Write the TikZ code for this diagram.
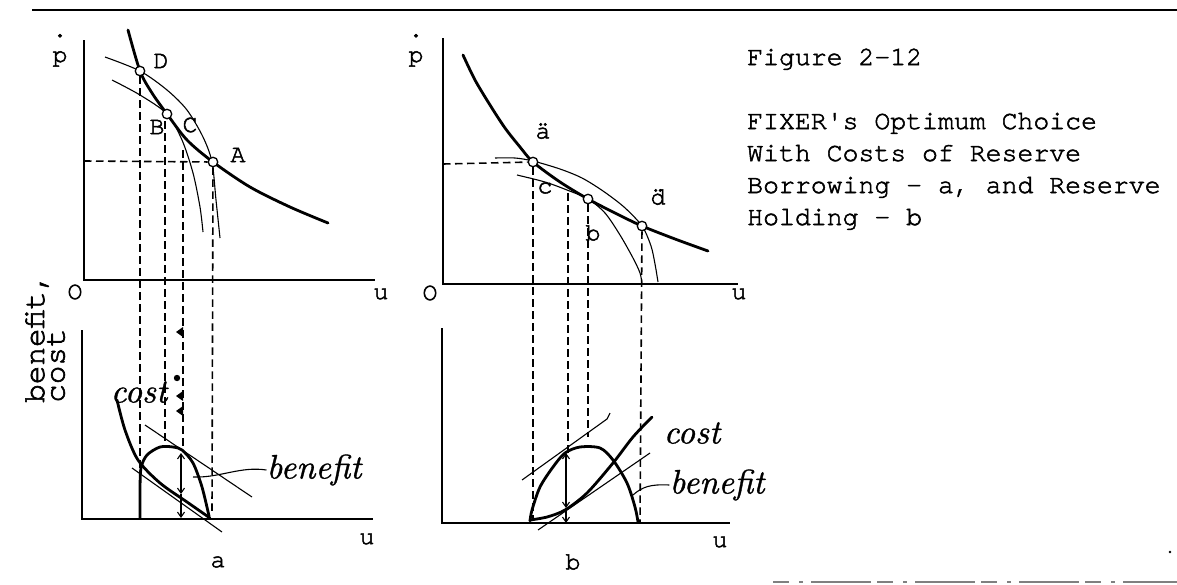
\documentclass[tikz,border=0pt]{standalone}
\usepackage{fontspec}
\usepackage{graphicx}
\newfontfamily\mono{texgyrecursor-regular.otf}[FakeBold=2]
\newfontfamily\itfont{lmroman10-italic.otf}[FakeBold=1]
\usetikzlibrary{arrows.meta}
\begin{document}
\begin{tikzpicture}[x=1pt,y=-1pt,
  ax/.style={line width=2.4pt},
  thk/.style={line width=2.8pt, line cap=round},
  thn/.style={line width=1.1pt},
  dsh/.style={line width=1.6pt, dash pattern=on 7.5pt off 4.5pt},
  pt/.style={circle, draw, fill=white, inner sep=0pt, minimum size=9.5pt, line width=1.3pt},
  lbl/.style={font=\mono\fontsize{25}{25}\selectfont, inner sep=0pt},
  pdot/.style={font=\mono\fontsize{25}{25}\selectfont, inner sep=0pt, align=center},
  itl/.style={font=\itfont\fontsize{34}{34}\selectfont, inner sep=0pt},
  rot/.style={font=\mono\fontsize{31}{31}\selectfont, inner sep=0pt, anchor=south},
  dbl/.style={line width=1.1pt, {Straight Barb[length=5pt,width=7pt]}-{Straight Barb[length=5pt,width=7pt]}},
  sgl/.style={line width=1.1pt, -{Straight Barb[length=5pt,width=7pt]}},
  blob/.style={fill=black},
]
\useasboundingbox (0,0) rectangle (1177,584);
% top rule and bottom scan line
\draw[line width=2pt] (32,10) -- (1177,10);
\draw[gray, line width=1.6pt, dash pattern=on 16pt off 10pt on 4pt off 8pt on 60pt off 6pt] (773,582) -- (1177,582);
\fill (1170,552) circle (1.3pt);

% ================= LEFT TOP =================
\draw[ax] (84,40) -- (84,280) -- (375,280);
\node[pdot, anchor=base] (pL) at (60,62) {.\\p};
\node[lbl] (OL) at (75,292) {O};
\node[lbl] (uL) at (381,294) {u};
\draw[thk] plot[smooth] coordinates {(128,30) (140,71) (152,93) (167,114) (187,140) (213,162) (250,187) (290,207) (328,223)};
\draw[thn] plot[smooth] coordinates {(105,57) (140,71) (167,90) (187,110) (203,137) (212,162) (216,200) (220,238)};
\draw[thn] plot[smooth] coordinates {(112,80) (140,95) (167,114) (182,140) (193,173) (200,207) (203,232)};
\coordinate (hA) at (84,161);
\coordinate (c3t) at (183,150);
\node[pt] (D) at (140,71) {};
\node[pt] (B) at (167,114) {};
\node[pt] (A) at (213,162) {};
\node[lbl] (lD) at (161,61) {D};
\node[lbl] (lB) at (157,127) {B};
\node[lbl] (lC) at (190,125) {C};
\node[lbl] (lA) at (238,155) {A};
% dashed
\coordinate (d1b) at (140,519);
\coordinate (d2b) at (165,447);
\coordinate (d3b) at (183,452);
\coordinate (d4b) at (212,513);
\draw[dsh] (hA) -- (A);
\draw[dsh] (D) -- (d1b);
\draw[dsh] (165,121) -- (d2b);
\draw[dsh] (c3t) -- (d3b);
\draw[dsh] (A) -- (d4b);
% odd marks on dashed line
\fill[blob] (176,332) -- (183,327) -- (183,337) -- cycle;
\fill[blob] (177,378) circle (3.2pt);
\fill[blob] (176,396) -- (183,391) -- (183,401) -- cycle;
\fill[blob] (176,411) -- (183,406) -- (183,416) -- cycle;

% ================= LEFT BOTTOM =================
\draw[ax] (82,330) -- (82,519) -- (373,519);
\node[lbl] (uLb) at (367,539) {u};
\node[lbl] (la) at (218,562) {a};
\node[rot] (ben1) at (37,403) {\rotatebox{90}{benefit,}};
\node[rot] (cst1) at (56,403) {\rotatebox{90}{cost}};
\draw[thk] plot[smooth] coordinates {(117,400) (125,430) (138,460) (160,483) (187,502) (210,518)};
\draw[thk] plot[smooth] coordinates {(140,518) (140,490) (141,468) (147,455) (160,447) (173,447) (182,450) (193,463) (202,487) (209,516)};
\draw[thn] (145,425) -- (252,497);
\draw[thn] (132,468) -- (222,532);
\coordinate (arT) at (181,453);
\coordinate (arM) at (181,494);
\coordinate (arB) at (181,518);
\draw[dbl] (arT) -- (arM);
\draw[sgl] (arM) -- (arB);
\node[itl] (costL) at (139,392) {cost};
\node[itl] (benL) at (314,470) {benefit};
\coordinate (lkL) at (193,477);
\draw[thn] (lkL) .. controls (220,478) and (240,466) .. (benL.west);

% ================= RIGHT TOP =================
\draw[ax] (443,38) -- (443,284) -- (738,284);
\node[pdot, anchor=base] (pR) at (416,62) {.\\p};
\node[lbl] (OR) at (430,293) {O};
\node[lbl] (uR) at (739,294) {u};
\draw[thk] plot[smooth] coordinates {(463,55) (475,80) (490,105) (505,128) (520,147) (533,162) (560,182) (588,199) (615,213) (642,226) (675,239) (708,251)};
\draw[thn] plot[smooth] coordinates {(495,158) (515,158) (533,161) (560,169) (582,178) (603,191) (624,207) (642,226) (651,246) (655,264) (658,282)};
\draw[thn] plot[smooth] coordinates {(517,175) (545,182) (567,190) (588,199) (605,213) (620,235) (633,258) (640,273) (642,284)};
\coordinate (hR) at (443,164);
\coordinate (e2t) at (568,193);
\node[pt] (aa) at (533,162) {};
\node[pt] (bb) at (588,199) {};
\node[pt] (dd) at (642,226) {};
\node[lbl] (laa) at (543,131) {ä};
\node[lbl] (lcc) at (545,188) {c};
\node[lbl] (lbb) at (593,233) {b};
\node[lbl] (ldd) at (658,197) {\"{d}};
\coordinate (e1b) at (533,521);
\coordinate (e2b) at (568,453);
\coordinate (e3b) at (588,437);
\coordinate (e4b) at (640,522);
\draw[dsh] (hR) -- (aa);
\draw[dsh] (aa) -- (e1b);
\draw[dsh] (e2t) -- (e2b);
\draw[dsh] (bb) -- (e3b);
\draw[dsh] (dd) -- (e4b);

% ================= RIGHT BOTTOM =================
\draw[ax] (442,328) -- (442,523) -- (730,523);
\node[lbl] (uRb) at (720,542) {u};
\node[lbl] (lb) at (573,562) {b};
\draw[thk] plot[smooth] coordinates {(530,521) (532,510) (540,487) (553,467) (565,453) (580,447) (600,448) (613,460) (627,483) (635,507) (638,522)};
\draw[thk] plot[smooth] coordinates {(530,520) (547,517) (565,510) (587,493) (613,463) (633,437) (652,417)};
\draw[thn] (522,480) -- (607,419) -- (610,413);
\draw[thn] (538,530) -- (650,453);
\coordinate (brT) at (566,453);
\coordinate (brM) at (566,508);
\coordinate (brB) at (566,523);
\draw[dbl] (brT) -- (brM);
\draw[sgl] (brM) -- (brB);
\node[itl] (costR) at (692,433) {cost};
\node[itl] (benR) at (717,485) {benefit};
\coordinate (lkR) at (633,495);
\draw[thn] (lkR) .. controls (642,487) and (650,484) .. (benR.west);

% ================= CAPTION =================
\node[font=\mono\fontsize{26.5}{32}\selectfont, align=left, anchor=base west, inner sep=0pt] (cap) at (747,225)
  {Figure 2-12\\[32pt]FIXER's Optimum Choice\\With Costs of Reserve\\Borrowing - a, and Reserve\\Holding - b};
\end{tikzpicture}
\end{document}
